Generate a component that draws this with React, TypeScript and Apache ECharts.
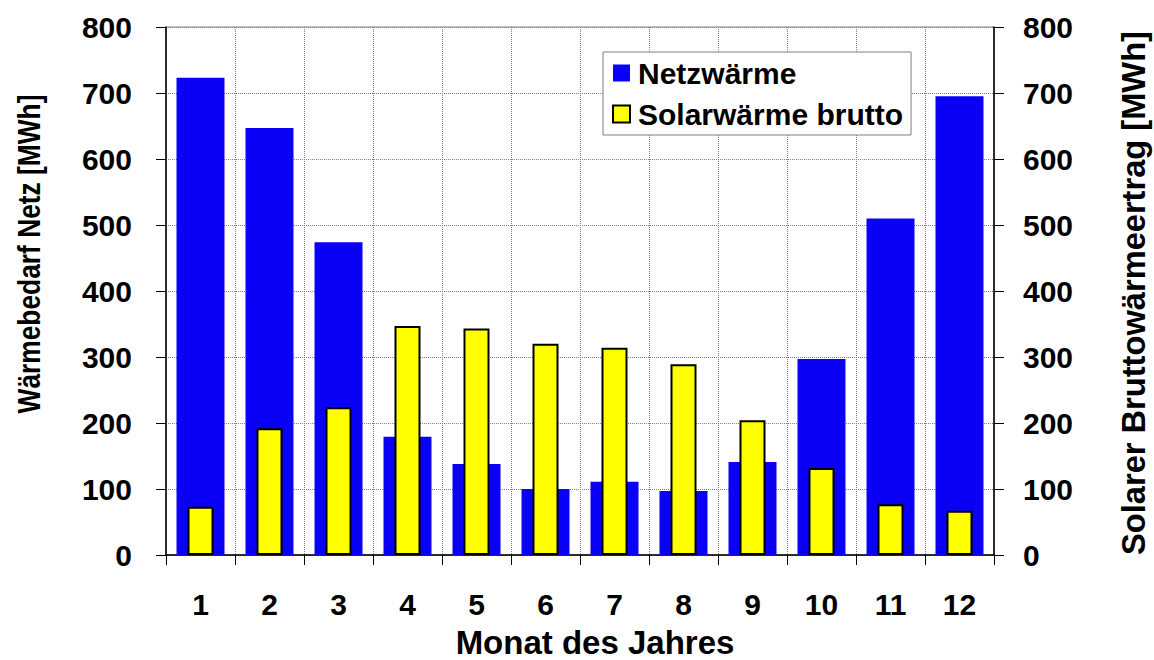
import React, { useEffect, useRef } from 'react';
import * as echarts from 'echarts';

const months = ['1', '2', '3', '4', '5', '6', '7', '8', '9', '10', '11', '12'];
const netzwaerme = [723, 647, 474, 179, 138, 100, 111, 97, 141, 297, 510, 695];
const solarwaerme = [73, 192, 224, 347, 343, 320, 314, 289, 204, 132, 77, 67];
const yMin = 0;
const yMax = 800;
const yStep = 100;

const FONT = 'Liberation Sans, Arial, Helvetica, sans-serif';

export default function App() {
  const ref = useRef<HTMLDivElement>(null);
  useEffect(() => {
    const chart = echarts.init(ref.current as HTMLDivElement, null, { renderer: 'svg' });
    const tickLabel = { fontFamily: FONT, fontSize: 30, fontWeight: 'bold', color: '#000' };
    chart.setOption({
      animation: false,
      grid: {
        left: 166, right: 160, top: 27, bottom: 105,
        show: true, borderColor: '#808080', borderWidth: 1, backgroundColor: 'transparent'
      },
      legend: {
        orient: 'vertical',
        left: 603, top: 52,
        itemWidth: 17, itemHeight: 17, itemGap: 9,
        padding: [5, 8, 5, 9],
        backgroundColor: '#fff', borderColor: '#808080', borderWidth: 1,
        icon: 'rect',
        textStyle: { fontFamily: FONT, fontSize: 30, fontWeight: 'bold', color: '#000', lineHeight: 32, padding: [0, 0, 0, 3] },
        data: ['Netzwärme', 'Solarwärme brutto']
      },
      xAxis: [
        {
          type: 'category', data: months, boundaryGap: true,
          axisLine: { show: true, lineStyle: { color: '#000', width: 1.5 } },
          axisTick: { show: true, inside: false, length: 10, interval: 0, lineStyle: { color: '#000', width: 1 } },
          axisLabel: { ...tickLabel, margin: 34, interval: 0 },
          splitLine: { show: true, interval: 0, lineStyle: { color: '#808080', type: 'dotted', width: 1 } }
        },
        { type: 'category', data: months, show: false, boundaryGap: true }
      ],
      yAxis: [
        {
          type: 'value', min: yMin, max: yMax, interval: yStep, position: 'left',
          axisLine: { show: true, lineStyle: { color: '#000', width: 1.5 } },
          axisTick: { show: true, inside: false, length: 10, lineStyle: { color: '#000', width: 1 } },
          axisLabel: { ...tickLabel, margin: 34 },
          splitLine: { show: true, lineStyle: { color: '#808080', type: 'dotted', width: 1 } }
        },
        {
          type: 'value', min: yMin, max: yMax, interval: yStep, position: 'right',
          axisLine: { show: true, lineStyle: { color: '#000', width: 1.5 } },
          axisTick: { show: true, inside: false, length: 10, lineStyle: { color: '#000', width: 1 } },
          axisLabel: { ...tickLabel, margin: 29 },
          splitLine: { show: false }
        }
      ],
      series: [
        {
          name: 'Netzwärme', type: 'bar', xAxisIndex: 0, yAxisIndex: 0,
          data: netzwaerme, barWidth: 48,
          itemStyle: { color: '#0a00f5' }
        },
        {
          name: 'Solarwärme brutto', type: 'bar', xAxisIndex: 1, yAxisIndex: 1,
          data: solarwaerme, barWidth: 26, z: 3,
          itemStyle: { color: '#ffff00', borderColor: '#000', borderWidth: 2 }
        }
      ],
      graphic: [
        {
          type: 'text', x: 29, y: 254, rotation: Math.PI / 2, scaleX: 0.85,
          style: {
            text: 'Wärmebedarf Netz [MWh]', fontFamily: FONT, fontSize: 31, fontWeight: 'bold', fill: '#000',
            align: 'center', verticalAlign: 'middle', textAlign: 'center', textVerticalAlign: 'middle'
          }
        },
        {
          type: 'text', x: 1133, y: 293, rotation: Math.PI / 2, scaleX: 0.96,
          style: {
            text: 'Solarer Bruttowärmeertrag [MWh]', fontFamily: FONT, fontSize: 34, fontWeight: 'bold', fill: '#000',
            align: 'center', verticalAlign: 'middle', textAlign: 'center', textVerticalAlign: 'middle'
          }
        },
        {
          type: 'text', x: 595, y: 642,
          style: {
            text: 'Monat des Jahres', fontFamily: FONT, fontSize: 33, fontWeight: 'bold', fill: '#000',
            align: 'center', verticalAlign: 'middle', textAlign: 'center', textVerticalAlign: 'middle'
          }
        }
      ]
    });
    return () => chart.dispose();
  }, []);
  return <div ref={ref} style={{ position: 'absolute', left: 0, top: 0, width: 1154, height: 660 }} />;
}
